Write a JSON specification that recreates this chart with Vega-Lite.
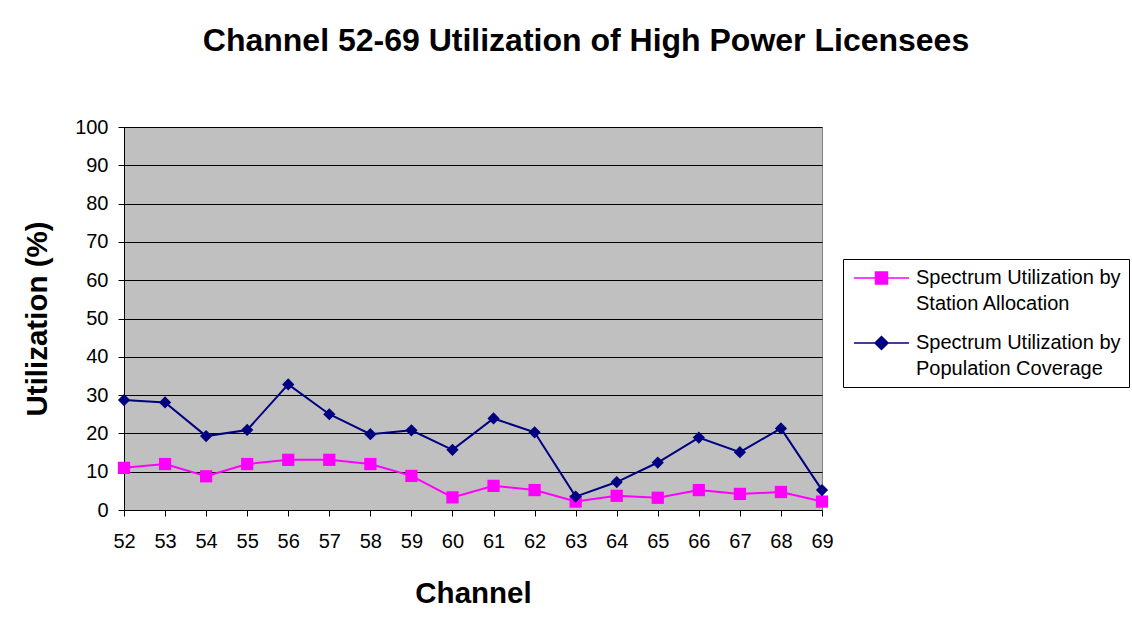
{
  "$schema": "https://vega.github.io/schema/vega-lite/v6.json",
  "autosize": "none",
  "width": 698,
  "height": 383,
  "padding": {"left": 124, "top": 127, "right": 310, "bottom": 113},
  "background": "white",
  "title": {
    "text": "Channel 52-69 Utilization of High Power Licensees",
    "font": "Liberation Sans",
    "fontSize": 32,
    "fontWeight": "bold",
    "color": "black",
    "anchor": "middle",
    "dx": 113,
    "offset": 59
  },
  "config": {
    "view": {"fill": "#C0C0C0", "stroke": "#808080", "strokeWidth": 1},
    "font": "Liberation Sans",
    "axis": {
      "labelFont": "Liberation Sans",
      "labelFontSize": 20,
      "labelColor": "black",
      "titleFont": "Liberation Sans",
      "titleFontSize": 29.5,
      "titleFontWeight": "bold",
      "titleColor": "black",
      "domainColor": "black",
      "tickColor": "black",
      "tickSize": 6,
      "gridColor": "black",
      "gridOpacity": 1,
      "gridWidth": 1
    }
  },
  "data": {
    "values": [
      {"channel": 52, "series": "Spectrum Utilization by Station Allocation", "value": 11.0},
      {"channel": 53, "series": "Spectrum Utilization by Station Allocation", "value": 12.0},
      {"channel": 54, "series": "Spectrum Utilization by Station Allocation", "value": 8.8},
      {"channel": 55, "series": "Spectrum Utilization by Station Allocation", "value": 12.0},
      {"channel": 56, "series": "Spectrum Utilization by Station Allocation", "value": 13.1},
      {"channel": 57, "series": "Spectrum Utilization by Station Allocation", "value": 13.1},
      {"channel": 58, "series": "Spectrum Utilization by Station Allocation", "value": 12.0},
      {"channel": 59, "series": "Spectrum Utilization by Station Allocation", "value": 8.9},
      {"channel": 60, "series": "Spectrum Utilization by Station Allocation", "value": 3.3},
      {"channel": 61, "series": "Spectrum Utilization by Station Allocation", "value": 6.3},
      {"channel": 62, "series": "Spectrum Utilization by Station Allocation", "value": 5.2},
      {"channel": 63, "series": "Spectrum Utilization by Station Allocation", "value": 2.2},
      {"channel": 64, "series": "Spectrum Utilization by Station Allocation", "value": 3.7},
      {"channel": 65, "series": "Spectrum Utilization by Station Allocation", "value": 3.2},
      {"channel": 66, "series": "Spectrum Utilization by Station Allocation", "value": 5.2},
      {"channel": 67, "series": "Spectrum Utilization by Station Allocation", "value": 4.2},
      {"channel": 68, "series": "Spectrum Utilization by Station Allocation", "value": 4.7},
      {"channel": 69, "series": "Spectrum Utilization by Station Allocation", "value": 2.2},
      {"channel": 52, "series": "Spectrum Utilization by Population Coverage", "value": 28.7},
      {"channel": 53, "series": "Spectrum Utilization by Population Coverage", "value": 28.1},
      {"channel": 54, "series": "Spectrum Utilization by Population Coverage", "value": 19.3},
      {"channel": 55, "series": "Spectrum Utilization by Population Coverage", "value": 20.9},
      {"channel": 56, "series": "Spectrum Utilization by Population Coverage", "value": 32.8},
      {"channel": 57, "series": "Spectrum Utilization by Population Coverage", "value": 25.0},
      {"channel": 58, "series": "Spectrum Utilization by Population Coverage", "value": 19.8},
      {"channel": 59, "series": "Spectrum Utilization by Population Coverage", "value": 20.8},
      {"channel": 60, "series": "Spectrum Utilization by Population Coverage", "value": 15.7},
      {"channel": 61, "series": "Spectrum Utilization by Population Coverage", "value": 23.9},
      {"channel": 62, "series": "Spectrum Utilization by Population Coverage", "value": 20.3},
      {"channel": 63, "series": "Spectrum Utilization by Population Coverage", "value": 3.5},
      {"channel": 64, "series": "Spectrum Utilization by Population Coverage", "value": 7.3},
      {"channel": 65, "series": "Spectrum Utilization by Population Coverage", "value": 12.4},
      {"channel": 66, "series": "Spectrum Utilization by Population Coverage", "value": 18.9},
      {"channel": 67, "series": "Spectrum Utilization by Population Coverage", "value": 15.1},
      {"channel": 68, "series": "Spectrum Utilization by Population Coverage", "value": 21.3},
      {"channel": 69, "series": "Spectrum Utilization by Population Coverage", "value": 5.2}
    ]
  },
  "encoding": {
    "x": {
      "field": "channel",
      "type": "quantitative",
      "scale": {"domain": [52, 69], "nice": false, "zero": false},
      "axis": {
        "title": "Channel",
        "values": [52,53,54,55,56,57,58,59,60,61,62,63,64,65,66,67,68,69],
        "format": "d",
        "grid": false,
        "labelFlush": false,
        "labelPadding": 15,
        "titlePadding": 28
      }
    },
    "y": {
      "field": "value",
      "type": "quantitative",
      "scale": {"domain": [0, 100], "nice": false},
      "axis": {
        "title": "Utilization (%)",
        "values": [0,10,20,30,40,50,60,70,80,90,100],
        "grid": true,
        "labelFlush": false,
        "labelPadding": 10,
        "titlePadding": 22
      }
    }
  },
  "layer": [
    {
      "mark": {"type": "line", "strokeWidth": 2},
      "encoding": {
        "color": {
          "field": "series",
          "type": "nominal",
          "scale": {
            "domain": ["Spectrum Utilization by Station Allocation", "Spectrum Utilization by Population Coverage"],
            "range": ["#FF00FF", "#000080"]
          },
          "legend": {
            "title": null,
            "orient": "none",
            "legendX": 719,
            "legendY": 132,
            "fillColor": "white",
            "strokeColor": "black",
            "padding": 8,
            "rowPadding": 18,
            "symbolSize": 400,
            "symbolStrokeWidth": 1.5,
            "labelFont": "Liberation Sans",
            "labelFontSize": 20,
            "labelColor": "black",
            "labelLimit": 400,
            "labelOffset": 43,
            "labelExpr": "[slice(datum.label, 0, 23), slice(datum.label, 24)]",
            "encode": {
              "labels": {"update": {"lineHeight": {"value": 26}}},
              "symbols": {
                "update": {
                  "shape": {"signal": "datum.value == 'Spectrum Utilization by Station Allocation' ? 'M-0.8,0H4.7M1.35,-0.6H2.55V0.6H1.35Z' : 'M-0.8,0H4.7M1.95,-0.65L2.6,0L1.95,0.65L1.3,0Z'"},
                  "fill": {"signal": "datum.value == 'Spectrum Utilization by Station Allocation' ? '#FF00FF' : '#000080'"},
                  "stroke": {"signal": "datum.value == 'Spectrum Utilization by Station Allocation' ? '#FF00FF' : '#000080'"},
                  "strokeWidth": {"value": 1.5},
                  "opacity": {"value": 1}
                }
              }
            }
          }
        }
      }
    },
    {
      "mark": {"type": "point", "filled": true, "opacity": 1, "size": 150},
      "encoding": {
        "color": {
          "field": "series",
          "type": "nominal",
          "scale": {
            "domain": ["Spectrum Utilization by Station Allocation", "Spectrum Utilization by Population Coverage"],
            "range": ["#FF00FF", "#000080"]
          },
          "legend": null
        },
        "shape": {
          "field": "series",
          "type": "nominal",
          "scale": {
            "domain": ["Spectrum Utilization by Station Allocation", "Spectrum Utilization by Population Coverage"],
            "range": ["square", "diamond"]
          },
          "legend": null
        }
      }
    }
  ],
  "resolve": {"scale": {"color": "independent"}}
}
